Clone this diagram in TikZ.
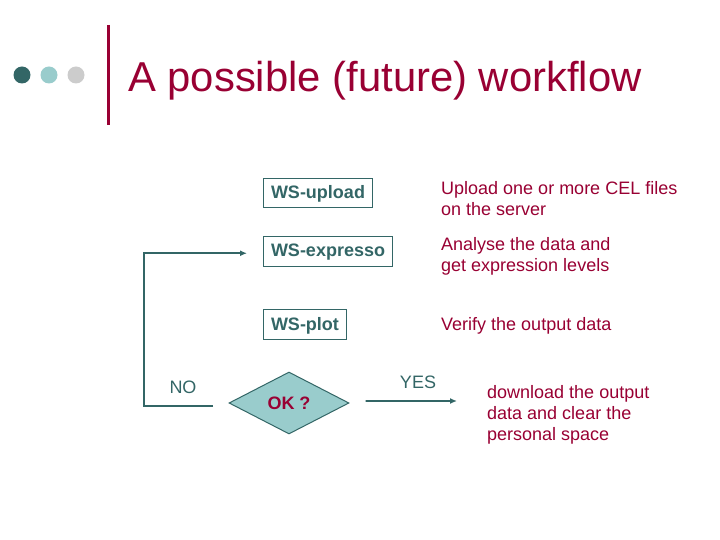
\documentclass[tikz,border=0pt]{standalone}
\usepackage{fontspec}
\setmainfont{Liberation Sans}
\usepackage{tikz}
\usetikzlibrary{arrows.meta, shapes.geometric}
\tikzset{>={Latex[length=7bp, width=6bp]}}
\definecolor{myteal}{RGB}{51, 102, 102}
\definecolor{mylightteal}{RGB}{153, 204, 204}
\definecolor{mygrey}{RGB}{204, 204, 204}
\definecolor{myred}{RGB}{153, 0, 51}
\newcommand{\bodysize}{\fontsize{18bp}{21bp}\selectfont}
\tikzset{
  wsbox/.style = {draw = myteal, line width = 1bp, text = myteal, font = \bodysize\bfseries,
    inner xsep = 7.5bp, inner ysep = 0pt, text height = 20.5bp, text depth = 9bp, anchor = base west},
  descr/.style = {text = myred, font = \bodysize, align = left, anchor = base west, inner sep = 0pt},
  flow/.style = {draw = myteal, line width = 1.8bp}
}

\begin{document}
\begin{tikzpicture}[x = 1bp, y = -1bp]
\useasboundingbox[fill = white] (0, 0) rectangle (720, 540);
\begin{scope}
\fill[myteal] (22, 75) circle [radius = 8.5];
\fill[mylightteal] (49, 75) circle [radius = 8.5];
\fill[mygrey] (76, 75) circle [radius = 8.5];
\draw[myred, line width = 3bp] (108, 25) -- (108, 125);
\node[anchor = base west, inner sep = 0pt, text = myred, font = \fontsize{41.8bp}{48bp}\selectfont] (title) at (128, 92) {A possible (future) workflow};
\end{scope}
\node[wsbox] (upload) at (263, 199) {WS-upload};
\node[wsbox] (expresso) at (263, 257) {WS-expresso};
\node[wsbox] (plot) at (263, 330) {WS-plot};
% base of a multi-line node = baseline of its last line
\node[descr] (uploadtxt) at (441, 216) {Upload one or more CEL files\\on the server};
\node[descr] (expressotxt) at (441, 272) {Analyse the data and\\get expression levels};
\node[descr] (plottxt) at (441, 330) {Verify the output data};
\node[diamond, draw = myteal, fill = mylightteal, line width = 1bp, inner sep = 0pt,
  minimum width = 120bp, minimum height = 62bp, text = myred, font = \bodysize\bfseries] (ok) at (289, 403) {OK ?};
\node[anchor = base, inner sep = 0pt, text = myteal, font = \bodysize] (no) at (183, 393) {NO};
\node[anchor = base, inner sep = 0pt, text = myteal, font = \bodysize] (yes) at (418, 388) {YES};
\node[descr] (downloadtxt) at (487, 440) {download the output\\data and clear the\\personal space};
\coordinate (noend) at (213, 406);
\coordinate (nocorner) at (144, 406);
\coordinate (yesend) at (457, 401);
\draw[flow, ->] (noend) -- (nocorner) |- ([xshift = -16bp, yshift = -2bp]expresso.west);
\draw[flow, ->] ([shift = {(16bp, 2bp)}]ok.east) -- (yesend);
\end{tikzpicture}
\end{document}
